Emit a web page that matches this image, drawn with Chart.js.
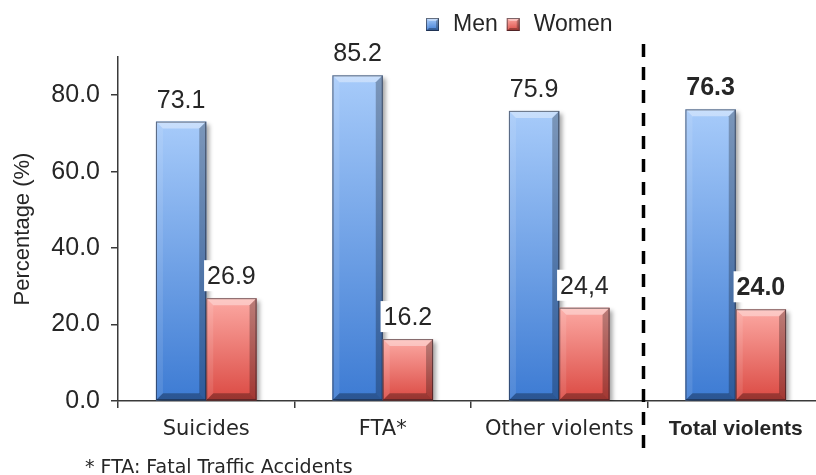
<!DOCTYPE html>
<html>
<head>
<meta charset="utf-8">
<title>Violent deaths by sex</title>
<script src="https://cdn.jsdelivr.net/npm/chart.js@4.4.1/dist/chart.umd.min.js"></script>
<style>
  html, body { margin: 0; padding: 0; background: #fff; }
  #wrap { width: 816px; height: 475px; overflow: hidden; }
  canvas { display: block; }
</style>
</head>
<body>
<div id="wrap"><canvas id="chart" width="830" height="475"></canvas></div>
<script>
// Données
const categories = ['Suicides', 'FTA*', 'Other violents', 'Total violents'];
const menValues = [73.1, 85.2, 75.9, 76.3];
const womenValues = [26.9, 16.2, 24.4, 24.0];
const menDecimalMark = ['.', '.', '.', '.'];
const womenDecimalMark = ['.', '.', ',', '.'];
const yTicks = [0, 20, 40, 60, 80];
const footnote = '* FTA: Fatal Traffic Accidents';

const TEXT = '#262626';
const AXIS = '#3a3a3a';
const NUM_FONT = 'Liberation Sans, Arial, sans-serif';
const LABEL_FONT = 'DejaVu Sans, Verdana, sans-serif';

// Dégradés des barres
const menShade = { top: '#a7cbfa', bottom: '#3d7bd3' };
const womenShade = { top: '#fca9a3', bottom: '#db4a43' };

function poly(ctx, pts, fill) {
    ctx.beginPath();
    ctx.moveTo(pts[0][0], pts[0][1]);
    for (let i = 1; i < pts.length; i++) ctx.lineTo(pts[i][0], pts[i][1]);
    ctx.closePath();
    ctx.fillStyle = fill;
    ctx.fill();
}

// Boîte biseautée (effet relief)
function drawBevelBox(ctx, left, top, right, bottom, shade, b) {
    const w = right - left;
    const h = bottom - top;
    b = Math.min(b, w / 4, h / 2);

    const g = ctx.createLinearGradient(0, top, 0, bottom);
    g.addColorStop(0, shade.top);
    g.addColorStop(1, shade.bottom);
    ctx.fillStyle = g;
    ctx.fillRect(left, top, w, h);

    poly(ctx, [[left, top], [right, top], [right - b, top + b], [left + b, top + b]], 'rgba(255,255,255,0.38)');
    poly(ctx, [[left, top], [left + b, top + b], [left + b, bottom - b], [left, bottom]], 'rgba(255,255,255,0.10)');
    poly(ctx, [[right, top], [right, bottom], [right - b, bottom - b], [right - b, top + b]], 'rgba(0,0,0,0.26)');
    poly(ctx, [[left, bottom], [left + b, bottom - b], [right - b, bottom - b], [right, bottom]], 'rgba(0,0,0,0.30)');

    ctx.strokeStyle = 'rgba(20,20,30,0.55)';
    ctx.lineWidth = 1;
    ctx.strokeRect(left + 0.5, top + 0.5, w - 1, h - 1);
}

const bevelBars = {
    id: 'bevelBars',
    afterDatasetsDraw(chart) {
        const ctx = chart.ctx;
        const area = chart.chartArea;
        ctx.save();
        ctx.beginPath();
        ctx.rect(area.left, 0, area.right - area.left, area.bottom);
        ctx.clip();
        chart.data.datasets.forEach((ds, di) => {
            const meta = chart.getDatasetMeta(di);
            meta.data.forEach(bar => {
                const left = bar.x - bar.width / 2;
                const right = bar.x + bar.width / 2;
                // ombre portée
                ctx.save();
                ctx.filter = 'blur(2px)';
                ctx.fillStyle = 'rgba(0,0,0,0.35)';
                ctx.fillRect(left + 3, bar.y + 3, bar.width, bar.base - bar.y);
                ctx.restore();
                drawBevelBox(ctx, left, bar.y, right, bar.base, ds.shade, 7);
            });
        });
        ctx.restore();
    }
};

// Étiquettes de valeur au-dessus des barres
const valueLabels = {
    id: 'valueLabels',
    afterDatasetsDraw(chart) {
        const ctx = chart.ctx;
        ctx.save();
        chart.data.datasets.forEach((ds, di) => {
            const meta = chart.getDatasetMeta(di);
            meta.data.forEach((bar, i) => {
                const text = ds.data[i].toFixed(1).replace('.', ds.decimalMark[i]);
                const bold = i === categories.length - 1;
                ctx.font = (bold ? 'bold ' : '') + '25px ' + NUM_FONT;
                const tw = ctx.measureText(text).width;
                const baseline = bar.y - 14;
                ctx.fillStyle = '#fff';
                ctx.fillRect(bar.x - tw / 2 - 3, baseline - 24, tw + 6, 31);
                ctx.fillStyle = TEXT;
                ctx.textAlign = 'center';
                ctx.textBaseline = 'alphabetic';
                ctx.fillText(text, bar.x, baseline);
            });
        });
        ctx.restore();
    }
};

// Légende, séparateur pointillé et note de bas de page
const extras = {
    id: 'extras',
    afterDraw(chart) {
        const ctx = chart.ctx;
        const x = chart.scales.x;
        ctx.save();

        // séparateur avant le total
        const sepX = (x.getPixelForValue(2) + x.getPixelForValue(3)) / 2 - 4;
        ctx.strokeStyle = '#000';
        ctx.lineWidth = 3.5;
        ctx.setLineDash([13, 10]);
        ctx.beginPath();
        ctx.moveTo(sepX, 44);
        ctx.lineTo(sepX, 450);
        ctx.stroke();
        ctx.setLineDash([]);

        // légende
        let lx = 426;
        const ly = 24;
        ctx.font = '23px ' + NUM_FONT;
        ctx.textBaseline = 'middle';
        ctx.textAlign = 'left';
        chart.data.datasets.forEach(ds => {
            drawBevelBox(ctx, lx, ly - 6, lx + 13, ly + 7, ds.shade, 3);
            lx += 13 + 14;
            ctx.fillStyle = TEXT;
            ctx.fillText(ds.label, lx, ly + 1);
            lx += ctx.measureText(ds.label).width + 9;
        });

        // note
        ctx.font = '19px ' + LABEL_FONT;
        ctx.textBaseline = 'alphabetic';
        ctx.fillStyle = TEXT;
        ctx.fillText(footnote, 85, 473);
        ctx.restore();
    }
};

new Chart(document.getElementById('chart'), {
    type: 'bar',
    data: {
        labels: categories,
        datasets: [
            { label: 'Men', data: menValues, backgroundColor: '#7fb0f0', shade: menShade, decimalMark: menDecimalMark },
            { label: 'Women', data: womenValues, backgroundColor: '#f07b75', shade: womenShade, decimalMark: womenDecimalMark }
        ]
    },
    options: {
        responsive: false,
        animation: false,
        events: [],
        layout: { padding: { top: 57, right: 6, bottom: 0, left: 0 } },
        datasets: {
            bar: { categoryPercentage: 0.57, barPercentage: 1.0 }
        },
        plugins: {
            legend: { display: false },
            tooltip: { enabled: false }
        },
        scales: {
            x: {
                offset: true,
                border: { color: AXIS, width: 1.5 },
                grid: { drawOnChartArea: false, drawTicks: true, tickLength: 7, color: AXIS, lineWidth: 1.5, offset: true },
                ticks: {
                    color: TEXT,
                    padding: 9,
                    maxRotation: 0,
                    font: (c) => c.index === categories.length - 1
                        ? { family: NUM_FONT, size: 21, weight: 'bold' }
                        : { family: LABEL_FONT, size: 21 }
                },
                afterFit: (scale) => { scale.height = 74; }
            },
            y: {
                min: 0,
                max: 90,
                border: { color: AXIS, width: 1.5 },
                grid: { drawOnChartArea: false, drawTicks: true, tickLength: 7, color: AXIS, lineWidth: 1.5 },
                afterBuildTicks: (scale) => { scale.ticks = yTicks.map(v => ({ value: v })); },
                ticks: {
                    color: TEXT,
                    padding: 11,
                    font: { family: NUM_FONT, size: 25 },
                    callback: (v) => Number(v).toFixed(1)
                },
                title: {
                    display: true,
                    text: 'Percentage (%)',
                    color: TEXT,
                    font: { family: NUM_FONT, size: 22 },
                    padding: { top: 10, bottom: 0 }
                },
                afterFit: (scale) => { scale.width = 118; }
            }
        }
    },
    plugins: [bevelBars, valueLabels, extras]
});
</script>
</body>
</html>
